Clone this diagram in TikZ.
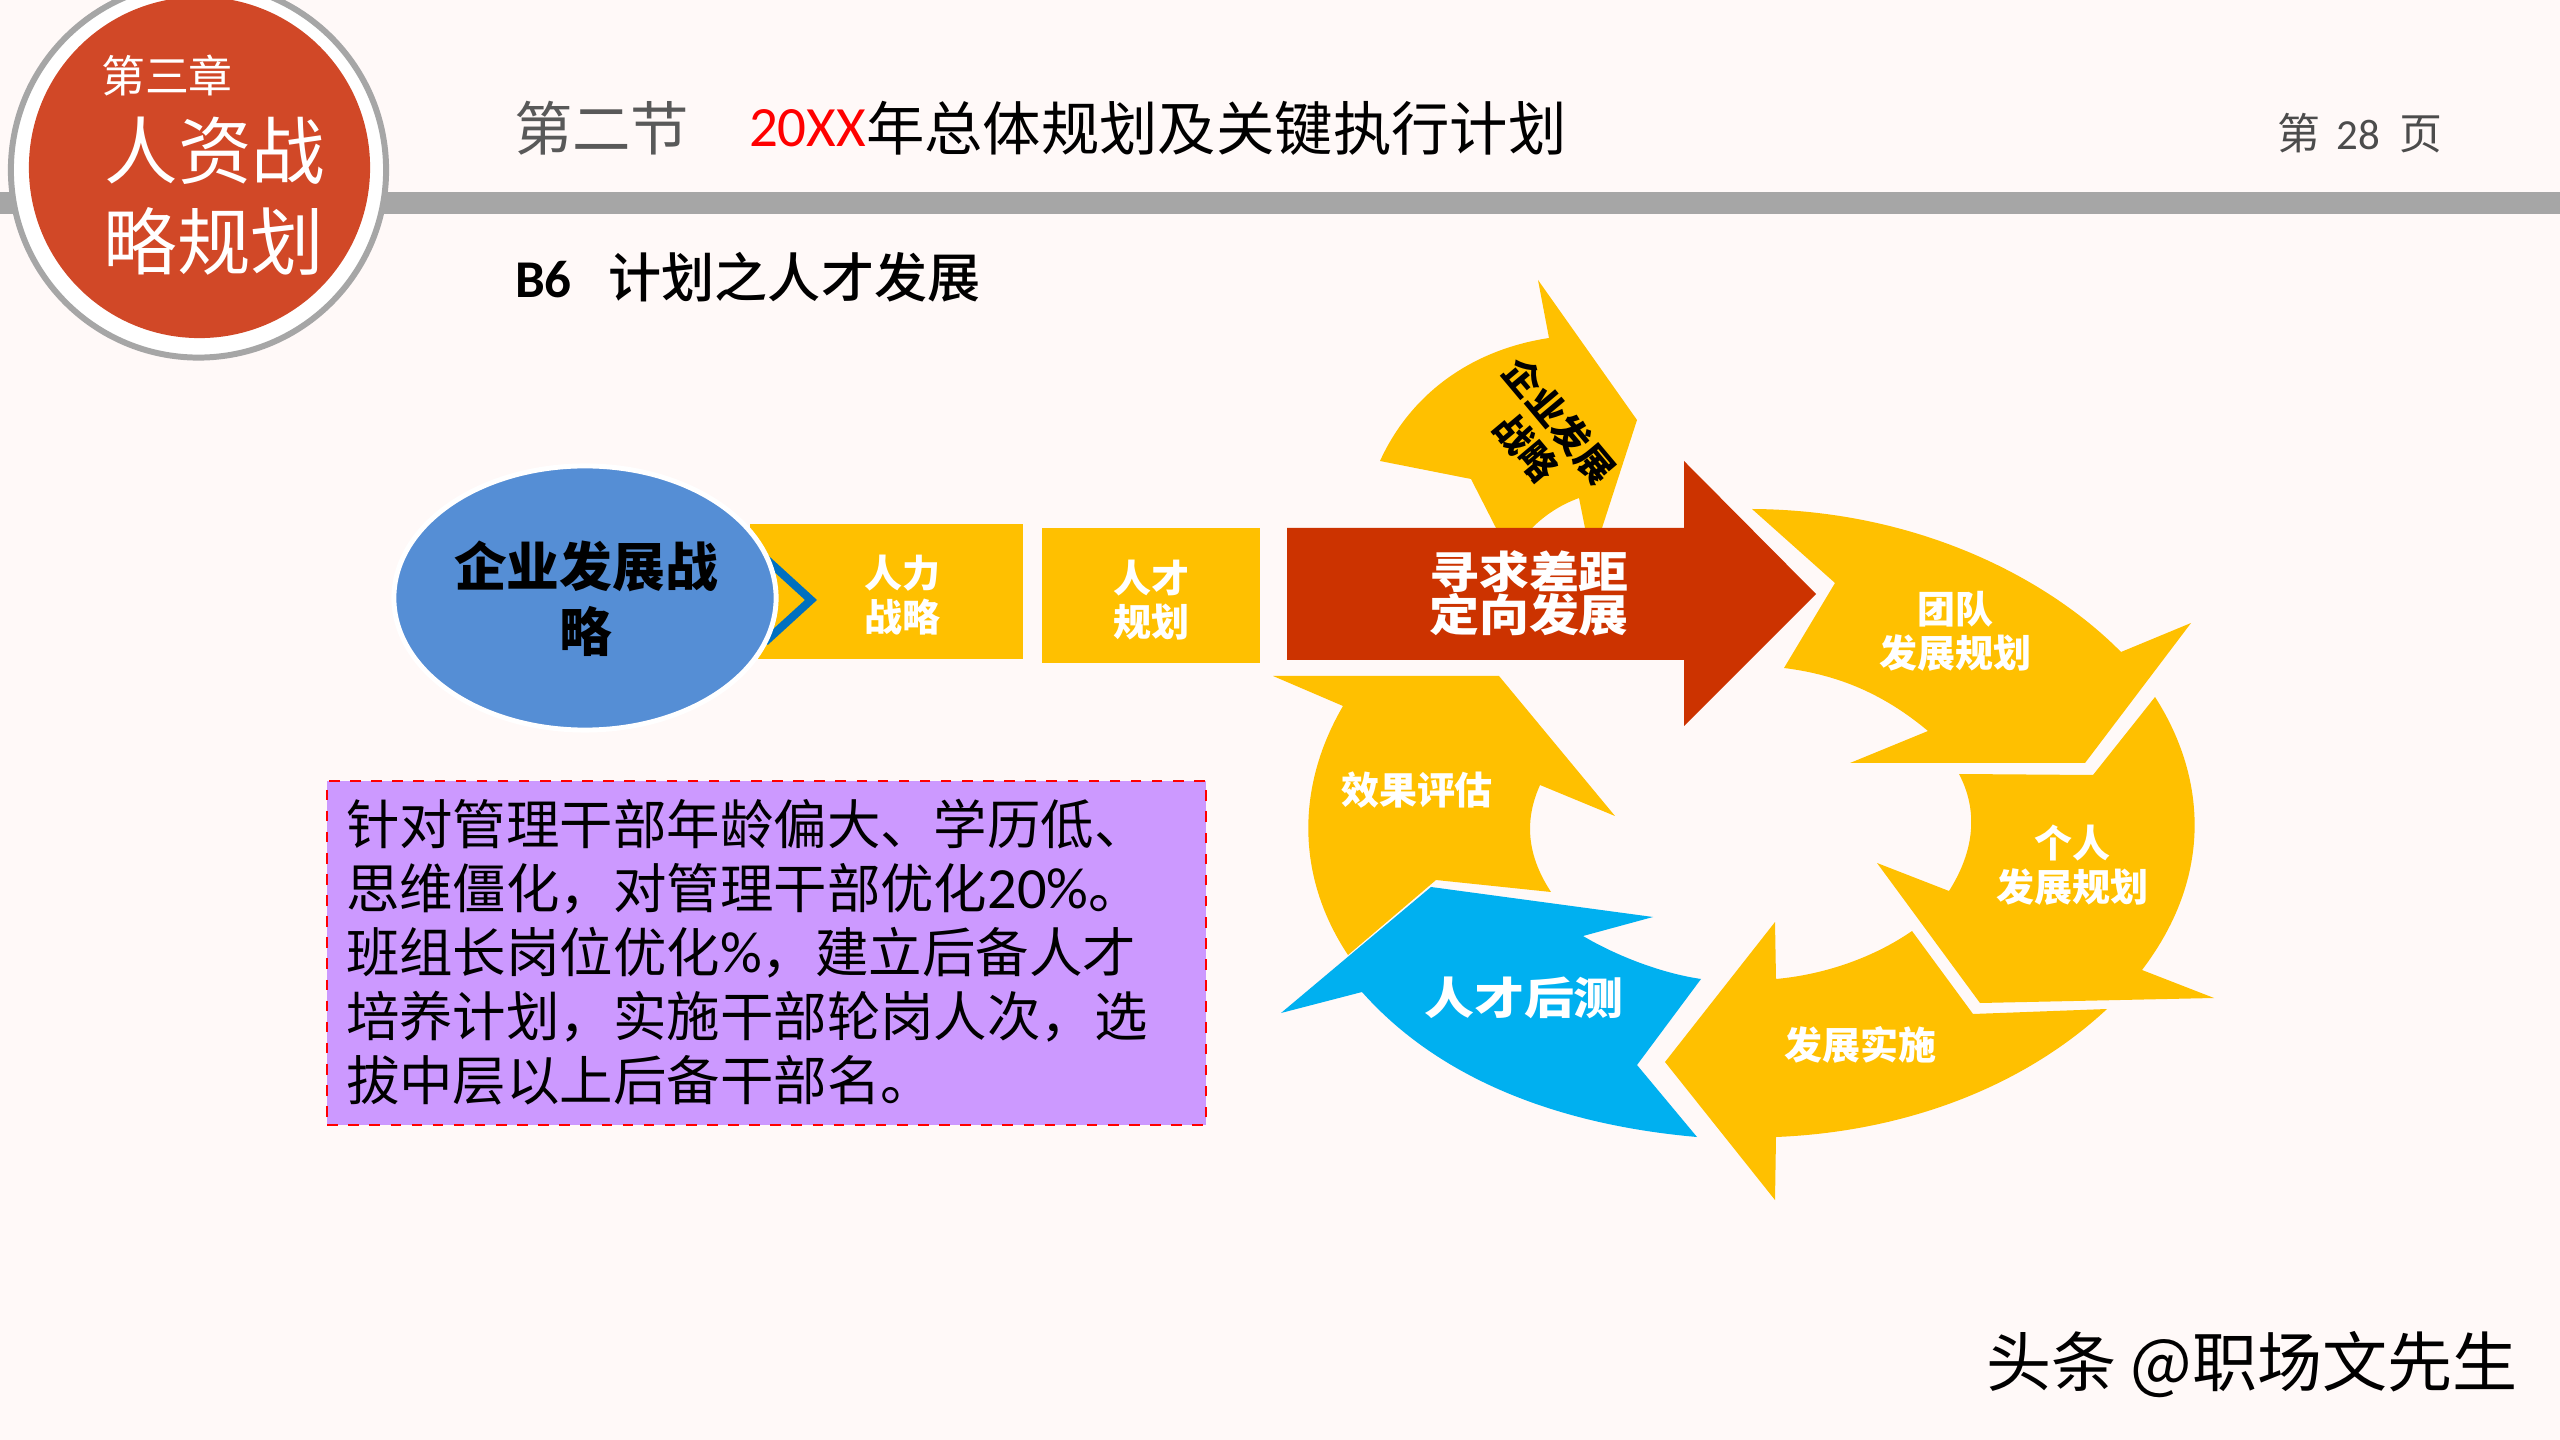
\documentclass[tikz,border=0pt]{standalone}
\usepackage{fontspec}
\setmainfont{Noto Sans CJK SC}
\newfontfamily\latfont{Carlito}
\newfontfamily\heavyfont{Noto Sans CJK SC Black}
\newfontfamily\midfont{Noto Sans CJK SC Medium}
\usetikzlibrary{shapes.geometric}
\definecolor{paper}{HTML}{FFF9F8}
\definecolor{gold}{HTML}{FFC000}
\definecolor{brick}{HTML}{CC3300}
\definecolor{sky}{HTML}{00B0F0}
\definecolor{steel}{HTML}{558ED5}
\definecolor{badge}{HTML}{D14827}
\definecolor{rule}{HTML}{A6A6A6}
\definecolor{lilac}{HTML}{CC99FF}
\definecolor{navy}{HTML}{0070C0}
\setlength{\lineskiplimit}{-20pt}
\begin{document}
\begin{tikzpicture}[x=0.01cm,y=-0.01cm]
        \tikzstyle{plain}=[inner sep=0pt,outer sep=0pt]
        \tikzstyle{small}=[plain,align=center,text=white,font=\fontsize{10.8pt}{12.5pt}\selectfont\bfseries]
        \tikzstyle{large}=[plain,align=center,text=white,font=\fontsize{14.2pt}{12.2pt}\selectfont\bfseries]
        \tikzstyle{cycle}=[fill=gold]
        \tikzstyle{goalbox}=[plain,rectangle,fill=gold]
        \tikzstyle{badgetext}=[plain,align=center,text=white,font=\fontsize{20.9pt}{25.9pt}\selectfont]
        \tikzstyle{titletext}=[plain,anchor=west,font=\fontsize{16.6pt}{20pt}\selectfont]

        \useasboundingbox (0,0) rectangle (2560,1440);
        \fill[paper] (0,0) rectangle (2560,1440);

        % header
        \fill[rule] (0,192) rectangle (2560,214);
        \node [plain,circle,draw=rule,fill=white,line width=1.7pt,minimum size=3.75cm] (ring) at (198.5,170) {};
        \node [plain,circle,fill=badge,minimum size=3.41cm] (seal) at (199.5,167.5) {};
        \node [plain,text=white,font=\fontsize{12.5pt}{14pt}\selectfont] (chapter) at (167,76) {第三章};
        \node [badgetext] (badgeup) at (215,151) {人资战};
        \node [badgetext] (badgedown) at (214,241) {略规划};
        \node [titletext,text=black!65] (section) at (514,128) {第二节};
        \node [titletext,text=red,font=\fontsize{16.2pt}{20pt}\selectfont\latfont] (year) at (749,128) {20XX};
        \node [titletext] (title) at (866,128) {年总体规划及关键执行计划};
        \node [plain,text=black!70,font=\fontsize{12.2pt}{14pt}\selectfont] (page) at (2360,133) {第\hspace{4.5pt}{\latfont 28}\hspace{5.5pt}页};
        \node [plain,anchor=west,font=\fontsize{15.1pt}{18pt}\selectfont\midfont] (sub) at (515,277) {{\latfont\bfseries B6}\hspace{10.5pt}计划之人才发展};

        % upper arrow
        \path[cycle] (1538,280) -- (1637,420) -- (1602,528) -- (1585,528) -- (1579,498)
          .. controls (1560,505) and (1545,515) .. (1532,528) -- (1496,528) -- (1471,479) -- (1380,461)
          .. controls (1410,395) and (1470,350) .. (1549,338) -- cycle;

        % loop of arrows
        \path[cycle] (1752,509) .. controls (1920,510) and (2050,580) .. (2121,652) -- (2191,623) -- (2085,763)
          -- (1850,763) -- (1928,731) .. controls (1885,695) and (1840,675) .. (1784,668) -- (1835,583) -- cycle;
        \path[cycle] (1959,774) -- (2093,775) -- (2155,697) .. controls (2202,770) and (2218,870) .. (2142,970)
          -- (2214,998) -- (1980,1003) -- (1877,863) -- (1949,891) .. controls (1975,850) and (1978,810) .. cycle;
        \path[cycle] (2107,1009) -- (1973,1014) -- (1912,931) .. controls (1870,960) and (1820,975) .. (1776,979)
          -- (1775,922) -- (1665,1062) -- (1775,1200) -- (1776,1137) .. controls (1900,1132) and (2020,1090) .. cycle;
        \path[cycle] (1273,676) -- (1499,676) -- (1615,816) -- (1540,785) .. controls (1522,825) and (1530,860) .. (1551,892)
          -- (1436,880) -- (1348,955) .. controls (1298,880) and (1294,790) .. (1343,706) -- cycle;
        \path[fill=sky] (1431,887) -- (1653,917) -- (1583,936) .. controls (1615,955) and (1660,973) .. (1701,979)
          -- (1637,1065) -- (1697,1137) .. controls (1560,1125) and (1440,1080) .. (1362,992) -- (1281,1013) -- cycle;

        % middle arrow
        \path[fill=brick] (1287,528) -- (1684,528) -- (1684,461) -- (1816,594) -- (1684,726) -- (1684,660) -- (1287,660) -- cycle;

        % boxes and oval
        \node [goalbox,minimum width=2.73cm,minimum height=1.35cm] (hrbox) at (886.5,591.5) {};
        \node [goalbox,minimum width=2.18cm,minimum height=1.35cm] (talentbox) at (1151,595.5) {};
        \draw[navy,line width=2.3pt] (765,558) -- (811,600) -- (765,642);
        \node [plain,ellipse,draw=white,line width=1.4pt,fill=steel,minimum width=3.82cm,minimum height=2.64cm] (corp) at (585,598) {};

        \node [plain,align=center,font=\fontsize{15pt}{18.5pt}\selectfont\heavyfont] (corptext) at (586,599) {企业发展战\\略};
        \node [small] (hrtext) at (902,595) {人力\\战略};
        \node [small] (talenttext) at (1151,600) {人才\\规划};
        \node [plain,align=center,rotate=-50,font=\fontsize{10.6pt}{12pt}\selectfont\heavyfont] (strategy) at (1543,434) {企业发展\\战略};
        \node [large] (seek) at (1529,593) {\scalebox{1}[.88]{寻求差距}\\\scalebox{1}[.88]{定向发展}};
        \node [small] (team) at (1955,631) {团队\\发展规划};
        \node [small] (person) at (2072,865) {个人\\发展规划};
        \node [small] (practice) at (1860,1045) {发展实施};
        \node [large] (backup) at (1524,998) {\scalebox{1}[.88]{人才后测}};
        \node [small] (review) at (1417,790) {效果评估};

        % note
        \node [plain,rectangle,draw=red,dashed,line width=0.6pt,fill=lilac,minimum width=8.78cm,minimum height=3.44cm] (notebox) at (766.5,953) {};
        \node [plain,anchor=north west,align=left,font=\fontsize{15.2pt}{18.2pt}\selectfont] (note) at (346,799) {针对管理干部年龄偏大、学历低、\\思维僵化，对管理干部优化{\latfont\fontsize{16.6pt}{18.2pt}\selectfont 20\%}。\\班组长岗位优化{\latfont\fontsize{16.6pt}{18.2pt}\selectfont\%}，建立后备人才\\培养计划，实施干部轮岗人次，选\\拔中层以上后备干部名。};

        \node [plain,font=\fontsize{18.5pt}{20pt}\selectfont] (mark) at (2252,1365) {头条 @职场文先生};
\end{tikzpicture}
\end{document}
